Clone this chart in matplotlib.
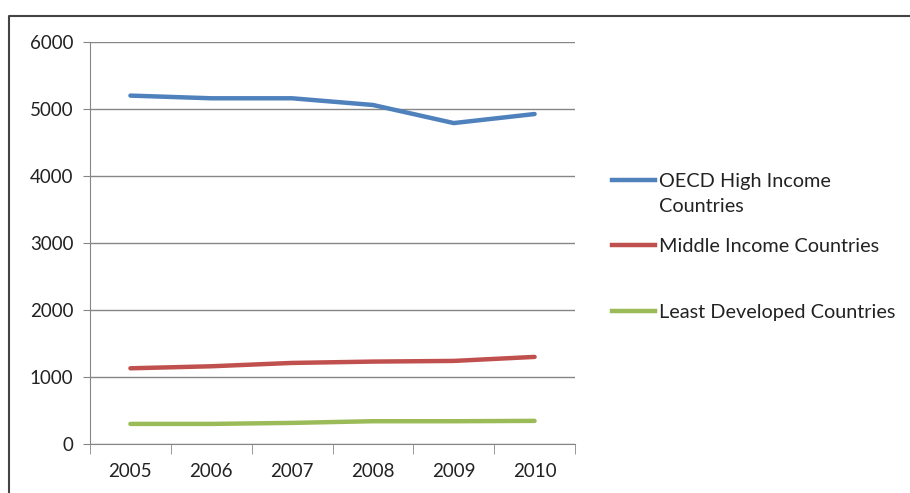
import matplotlib.pyplot as plt
from matplotlib.lines import Line2D

years = ["2005", "2006", "2007", "2008", "2009", "2010"]
oecd = [5200, 5160, 5160, 5060, 4790, 4925]
middle = [1130, 1160, 1210, 1230, 1240, 1300]
least = [300, 300, 315, 340, 340, 345]

labels = ["OECD High Income\nCountries", "Middle Income Countries", "Least Developed Countries"]
colors = ["#4F81BD", "#C0504D", "#9BBB59"]
yticks = [0, 1000, 2000, 3000, 4000, 5000, 6000]

plt.rcParams['font.family'] = ['Lato', 'DejaVu Sans']

W, H = 910, 493
fig = plt.figure(figsize=(W / 100, H / 100), dpi=100)
ax = fig.add_axes([90 / W, 1 - 444 / H, 485 / W, 402 / H])

x = list(range(len(years)))
for vals, c in zip([oecd, middle, least], colors):
    ax.plot(x, vals, color=c, lw=3.2, solid_capstyle="round")

ax.set_xlim(-0.5, len(years) - 0.5)
ax.set_ylim(0, 6000)
ax.set_yticks(yticks)
ax.set_yticklabels([str(v) for v in yticks], fontsize=13.5, color="#222222")
ax.set_xticks(x)
ax.set_xticklabels(years, fontsize=13.5, color="#222222")
ax.set_xticks([i - 0.5 for i in range(len(years) + 1)], minor=True)
ax.tick_params(axis="x", which="major", length=0, pad=14)
ax.tick_params(axis="x", which="minor", length=7, color="#868686", direction="out")
ax.tick_params(axis="y", length=5, color="#868686", pad=7)

ax.grid(axis="y", color="#868686", lw=1)
ax.set_axisbelow(True)
for s in ["top", "right"]:
    ax.spines[s].set_visible(False)
for s in ["left", "bottom"]:
    ax.spines[s].set_color("#868686")

# legend drawn by hand, Excel style
leg_y = [180, 245, 311]
for lab, c, yy in zip(labels, colors, leg_y):
    fig.add_artist(Line2D([612 / W, 655 / W], [1 - yy / H, 1 - yy / H],
                          transform=fig.transFigure, color=c, lw=3.2))
    fig.text(659 / W, 1 - (yy - 7) / H, lab, fontsize=14.3, color="#222222",
             va="top", ha="left", linespacing=1.55)

# outer chart frame
fig.add_artist(Line2D([9 / W, 9 / W, 1], [0, 1 - 16 / H, 1 - 16 / H],
                      transform=fig.transFigure, color="#444444", lw=1.5))

fig.savefig("out.png", dpi=100)
